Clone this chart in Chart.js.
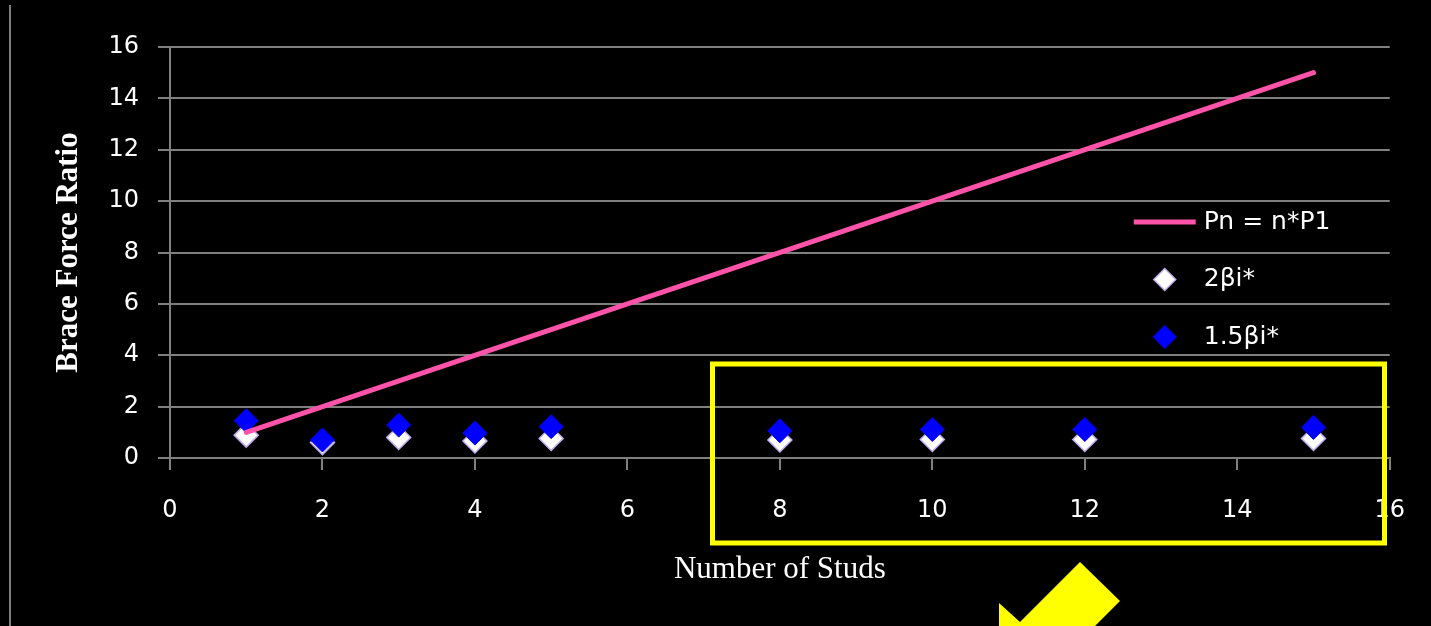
<!DOCTYPE html>
<html>
<head>
<meta charset="utf-8">
<title>Brace Force Ratio</title>
<script src="https://cdn.jsdelivr.net/npm/chart.js@4"></script>
<style>
  html, body { margin: 0; padding: 0; background: #000; overflow: hidden; }
  #wrap { width: 1431px; height: 626px; position: relative; }
</style>
</head>
<body>
<div id="wrap"><canvas id="braceChart"></canvas></div>
<script>
// number of studs and the two brace ratio estimates
const studs = [1, 2, 3, 4, 5, 8, 10, 12, 15];
const beta2 = [0.89, 0.60, 0.80, 0.66, 0.76, 0.70, 0.72, 0.72, 0.76];
const beta15 = [1.45, 0.70, 1.28, 0.97, 1.22, 1.06, 1.11, 1.11, 1.19];

// Pn = n*P1 reference line
const lineStuds = [1, 15];
const lineRatio = [1, 15];

const axisTicks = [0, 2, 4, 6, 8, 10, 12, 14, 16];

const GRID = '#808080';

function toPoints(xs, ys) {
    return xs.map((x, i) => ({ x: x, y: ys[i] }));
}

function setTicks(scale) {
    scale.ticks = axisTicks.map(v => ({ value: v }));
}

function diamond(ctx, x, y, r) {
    ctx.beginPath();
    ctx.moveTo(x - r, y);
    ctx.lineTo(x, y - r);
    ctx.lineTo(x + r, y);
    ctx.lineTo(x, y + r);
    ctx.closePath();
}

// legend sitting inside the plot, on the right
const sideLegend = {
    id: 'sideLegend',
    afterDatasetsDraw(chart) {
        const ctx = chart.ctx;
        const area = chart.chartArea;
        const x0 = area.right - 256;
        let y = area.top + 175;
        ctx.save();
        ctx.font = '25px "DejaVu Sans"';
        ctx.textBaseline = 'middle';
        chart.data.datasets.forEach(ds => {
            if (ds.showLine) {
                ctx.strokeStyle = ds.borderColor;
                ctx.lineWidth = ds.borderWidth;
                ctx.beginPath();
                ctx.moveTo(x0, y);
                ctx.lineTo(x0 + 62, y);
                ctx.stroke();
            } else {
                diamond(ctx, x0 + 31, y, 11);
                ctx.fillStyle = ds.backgroundColor;
                ctx.fill();
                ctx.strokeStyle = ds.borderColor;
                ctx.lineWidth = 1.5;
                ctx.stroke();
            }
            ctx.fillStyle = '#ffffff';
            ctx.fillText(ds.label, x0 + 70, y);
            y += 57.5;
        });
        ctx.restore();
    }
};

// slide decorations: left rule, highlight box and arrow
const decorations = {
    id: 'decorations',
    afterDraw(chart) {
        const ctx = chart.ctx;
        ctx.save();
        ctx.strokeStyle = '#7f7f7f';
        ctx.lineWidth = 2;
        ctx.beginPath();
        ctx.moveTo(10, 5);
        ctx.lineTo(10, 626);
        ctx.stroke();

        ctx.strokeStyle = '#ffff00';
        ctx.lineWidth = 5;
        ctx.strokeRect(712.5, 364, 672, 179);

        ctx.fillStyle = '#ffff00';
        ctx.beginPath();
        ctx.moveTo(1080, 562);
        ctx.lineTo(1120, 601);
        ctx.lineTo(1030, 691);
        ctx.lineTo(1030, 700);
        ctx.lineTo(999, 700);
        ctx.lineTo(999, 603);
        ctx.lineTo(1020, 622);
        ctx.closePath();
        ctx.fill();
        ctx.restore();
    }
};

new Chart(document.getElementById('braceChart'), {
    type: 'scatter',
    data: {
        datasets: [{
            label: 'Pn = n*P1',
            data: toPoints(lineStuds, lineRatio),
            showLine: true,
            borderColor: '#ff52a9',
            backgroundColor: '#ff52a9',
            borderWidth: 5,
            borderCapStyle: 'round',
            pointRadius: 0,
            order: 0
        }, {
            label: '2βi*',
            data: toPoints(studs, beta2),
            pointStyle: 'rectRot',
            pointRadius: 12,
            backgroundColor: '#ffffff',
            borderColor: '#c0aaf0',
            borderWidth: 1.5,
            order: 2
        }, {
            label: '1.5βi*',
            data: toPoints(studs, beta15),
            pointStyle: 'rectRot',
            pointRadius: 12,
            backgroundColor: '#0000ff',
            borderColor: '#0000ff',
            borderWidth: 1,
            order: 1
        }]
    },
    options: {
        responsive: true,
        maintainAspectRatio: false,
        animation: false,
        layout: {
            padding: { top: 47, right: 37, left: 0, bottom: 0 }
        },
        plugins: {
            legend: { display: false },
            tooltip: { enabled: false }
        },
        scales: {
            x: {
                type: 'linear',
                min: 0,
                max: 16,
                afterBuildTicks: setTicks,
                afterFit: s => { s.height = 168; },
                grid: {
                    drawOnChartArea: false,
                    color: GRID,
                    lineWidth: 2,
                    tickLength: 12
                },
                border: { color: GRID, width: 2 },
                ticks: {
                    color: '#ffffff',
                    padding: 26,
                    font: { family: 'DejaVu Sans', size: 24 }
                },
                title: {
                    display: true,
                    text: 'Number of Studs',
                    color: '#ffffff',
                    padding: { top: 0, bottom: 38 },
                    font: { family: 'Liberation Serif', size: 31 }
                }
            },
            y: {
                type: 'linear',
                min: 0,
                max: 16,
                afterBuildTicks: setTicks,
                afterFit: s => { s.width = 170; },
                grid: {
                    color: GRID,
                    lineWidth: 2,
                    tickLength: 12
                },
                border: { color: GRID, width: 2 },
                ticks: {
                    color: '#ffffff',
                    padding: 19,
                    font: { family: 'DejaVu Sans', size: 24 }
                },
                title: {
                    display: true,
                    text: 'Brace Force Ratio',
                    color: '#ffffff',
                    padding: { top: 50, bottom: 0 },
                    font: { family: 'Liberation Serif', size: 31, weight: 'bold' }
                }
            }
        }
    },
    plugins: [sideLegend, decorations]
});
</script>
</body>
</html>
